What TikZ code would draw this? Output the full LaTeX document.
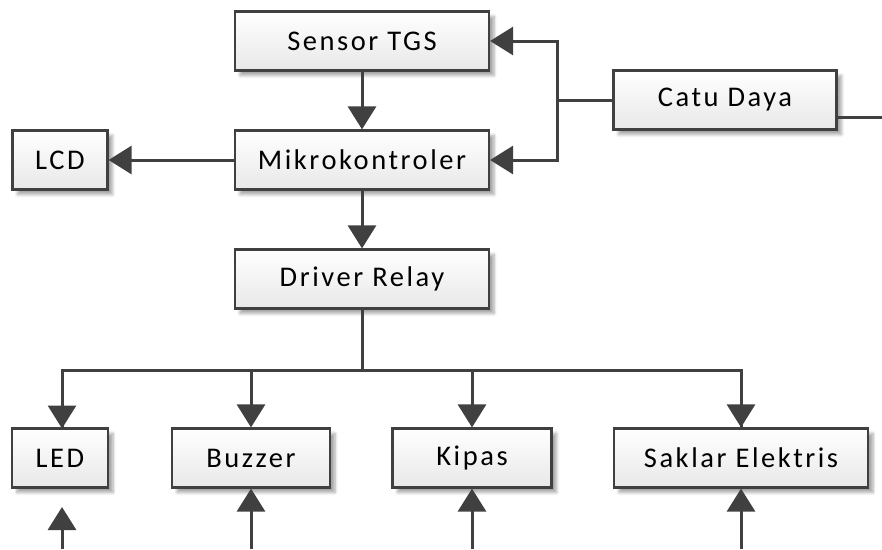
\documentclass[tikz,border=0pt]{standalone}
\usepackage{fontspec}
\setmainfont{Carlito}
\newfontfamily\boxfont[LetterSpace=9]{Carlito}
\usetikzlibrary{arrows.meta,shadows.blur}
\definecolor{edge}{HTML}{404040}
\tikzset{
  blk/.style={draw=edge, line width=2.2pt, top color=white, bottom color=black!9,
    minimum height=59pt, inner sep=0pt, font=\boxfont\fontsize{28.5}{34}\selectfont,
    blur shadow={shadow xshift=5pt, shadow yshift=-5pt, shadow blur steps=6,
      shadow blur radius=3pt, shadow opacity=35}},
  wire/.style={draw=edge, line width=3pt},
  arr/.style={wire, -{Triangle[length=23pt,width=28pt]}},
}
\begin{document}
\begin{tikzpicture}[x=1pt,y=-1pt]
\useasboundingbox (0,0) rectangle (882,549);
% blocks
\node[blk, minimum width=254pt] (sensor) at (362,41) {Sensor TGS};
\node[blk, minimum width=254pt] (mcu) at (362,160) {Mikrokontroler};
\node[blk, minimum width=223pt] (psu) at (725,100) {Catu Daya};
\node[blk, minimum width=95pt] (lcd) at (60,160) {LCD};
\node[blk, minimum width=254pt] (drv) at (362,279) {Driver Relay};
\node[blk, minimum width=96pt] (led) at (60,458) {LED};
\node[blk, minimum width=158pt] (buz) at (251,458) {Buzzer};
\node[blk, minimum width=159pt] (fan) at (472,458) {Kipas};
\node[blk, minimum width=254pt] (sw) at (741,458) {Saklar Elektris};
% helper points
\coordinate (j) at (557,100);
\coordinate (bus) at (362,370);
\coordinate (pout) at (882,117);
\coordinate (ledin) at (62,549);
\coordinate (ledtip) at (62,507);
\coordinate (buzin) at (251,549);
\coordinate (fanin) at (472,549);
\coordinate (swin) at (741,549);
% connections
\draw[arr] (sensor) -- (mcu);
\draw[arr] (mcu) -- (lcd);
\draw[arr] (mcu) -- (drv);
\draw[wire] (psu.west) -- (j);
\draw[arr] (j) |- (sensor.east);
\draw[arr] (j) |- (mcu.east);
\draw[wire] (psu.east |- pout) -- (pout);
\draw[wire] (drv.south) -- (bus);
\draw[wire] (bus) -| (62,428);
\draw[wire] (bus) -| (741,428);
\draw[arr] (62,368.5) -- (62,428.5);
\draw[arr] (buz.north |- bus) -- (buz.north);
\draw[arr] (fan.north |- bus) -- (fan.north);
\draw[arr] (sw.north |- bus) -- (sw.north);
% inputs from below
\draw[arr] (ledin) -- (ledtip);
\draw[arr] (buzin) -- (buz.south);
\draw[arr] (fanin) -- (fan.south);
\draw[arr] (swin) -- (sw.south);
\end{tikzpicture}
\end{document}
